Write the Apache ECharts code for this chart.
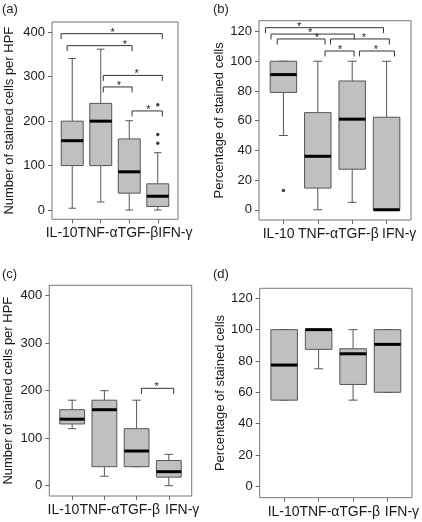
<!DOCTYPE html>
<html><head><meta charset="utf-8">
<script src="https://cdn.jsdelivr.net/npm/echarts@6/dist/echarts.min.js"></script>
<style>html,body{margin:0;padding:0;background:#fff}#c{width:422px;height:522px}</style>
</head><body><div id="c"></div>
<script>
const categories = ['IL-10', 'TNF-α', 'TGF-β', 'IFN-γ'];
// box stats per category: [lower whisker, Q1, median, Q3, upper whisker]
const boxA = [[4, 100, 156, 200, 341], [18, 100, 200, 240, 362], [0, 38, 86, 160, 201], [0, 8, 31, 59, 129]];
const boxB = [[50, 79, 91, 100, 100], [0, 14.6, 36, 65.4, 100], [5, 27.3, 61, 86.7, 100], [0, 0, 0, 62.3, 100]];
const boxC = [[120, 130, 140, 160, 180], [20, 40, 160, 180, 200], [40, 40, 73, 120, 180], [0, 18, 29.5, 53, 66]];
const boxD = [[55, 55, 77.4, 100, 100], [75, 87.4, 100, 100, 100], [55, 65, 84.6, 87.8, 100], [60, 60, 90.6, 100, 100]];
// outliers: [category position, value]
const outA = [[4, 237], [4, 170], [4, 150]];
const outB = [[1, 13]];
const outC = [];
const outD = [];
// significance brackets: [from position, to position, height, star position]
const sigA = [[0.61, 4.16, 397, 2.42], [0.82, 3.10, 370, 2.85], [2.09, 4.16, 303, 3.26], [2.09, 3.10, 277, 2.64], [3.10, 4.16, 223, 3.67]];
const sigB = [[0.48, 3.91, 122.6, 1.46], [0.64, 3.06, 118.3, 1.78], [0.82, 2.21, 115, 1.97], [2.37, 4.08, 115, 3.34], [2.21, 3.055, 106.9, 2.65], [3.21, 4.23, 106.9, 3.69]];
const sigC = [[3.15, 4.15, 205, 3.62]];
const sigD = [];
const ticksCount = [0, 100, 200, 300, 400];
const ticksPct = [0, 20, 40, 60, 80, 100, 120];
const nameCount = 'Number of stained cells per HPF';
const namePct = 'Percentage of stained cells';

const FONT = '"Liberation Sans", Arial, sans-serif';
const BOX_W = 0.77, CAP_W = 0.26, DROP = 5.5;
const XMIN = 0.29, XMAX = 4.71;

// label run layout: where the run of category labels starts, and gaps between them
const panels = [
  {label: '(a)', lab: {left: 2, top: 3}, box: boxA, out: outA, sig: sigA, ymin: -20.9, ymax: 423.2, ticks: ticksCount, name: nameCount, nameGap: 36, run: {start: 45.7, gaps: [0, 0, 0]}, grid: {left: 52, top: 22, width: 126, height: 197.3}},
  {label: '(b)', lab: {left: 213, top: 3}, box: boxB, out: outB, sig: sigB, ymin: -6.9, ymax: 127.3, ticks: ticksPct, name: namePct, nameGap: 25, run: {start: 262.7, gaps: [3.4, 0, 3.4]}, grid: {left: 259, top: 20.7, width: 152, height: 199.3}},
  {label: '(c)', lab: {left: 2, top: 268}, box: boxC, out: outC, sig: sigC, ymin: -21.7, ymax: 421.9, ticks: ticksCount, name: nameCount, nameGap: 34, run: {start: 47.5, gaps: [0, 0, 5]}, grid: {left: 49.3, top: 285.3, width: 142.4, height: 210.7}},
  {label: '(d)', lab: {left: 213, top: 268}, box: boxD, out: outD, sig: sigD, ymin: -7.3, ymax: 126.4, ticks: ticksPct, name: namePct, nameGap: 26, run: {start: 267.7, gaps: [0, 0, 5]}, grid: {left: 259.7, top: 288.3, width: 152.3, height: 209.4}}
];

const mctx = document.createElement('canvas').getContext('2d');
function textW(t, fs) { mctx.font = fs + 'px ' + FONT; return mctx.measureText(t).width; }
const RUN_W = 147;
let labFs = 14 * RUN_W / categories.reduce((s, c) => s + textW(c, 14), 0);
labFs = Math.max(12.5, Math.min(15.5, labFs));

function renderBox(params, api) {
  const x = api.value(0);
  const lo = api.value(1), q1 = api.value(2), md = api.value(3), q3 = api.value(4), hi = api.value(5);
  const bw = api.size([BOX_W, 0])[0];
  const cw = api.size([CAP_W, 0])[0];
  const p = v => api.coord([x, v]);
  const cx = p(md)[0];
  const yLo = p(lo)[1], yQ1 = p(q1)[1], yMd = p(md)[1], yQ3 = p(q3)[1], yHi = p(hi)[1];
  const ws = {stroke: '#555', lineWidth: 1};
  return {type: 'group', children: [
    {type: 'line', shape: {x1: cx, y1: yQ3, x2: cx, y2: yHi}, style: ws},
    {type: 'line', shape: {x1: cx - cw / 2, y1: yHi, x2: cx + cw / 2, y2: yHi}, style: ws},
    {type: 'line', shape: {x1: cx, y1: yQ1, x2: cx, y2: yLo}, style: ws},
    {type: 'line', shape: {x1: cx - cw / 2, y1: yLo, x2: cx + cw / 2, y2: yLo}, style: ws},
    {type: 'rect', shape: {x: cx - bw / 2, y: yQ3, width: bw, height: yQ1 - yQ3}, style: {fill: '#c0c0c0', stroke: '#555', lineWidth: 1}},
    {type: 'line', shape: {x1: cx - bw / 2, y1: yMd, x2: cx + bw / 2, y2: yMd}, style: {stroke: '#000', lineWidth: 3}}
  ]};
}

function renderSig(params, api) {
  const x1 = api.value(0), x2 = api.value(1), y = api.value(2), xs = api.value(3);
  const a = api.coord([x1, y]), b = api.coord([x2, y]), s = api.coord([xs, y]);
  return {type: 'group', children: [
    {type: 'polyline', shape: {points: [[a[0], a[1] + DROP], [a[0], a[1]], [b[0], b[1]], [b[0], b[1] + DROP]]}, style: {stroke: '#333', lineWidth: 1, fill: null}},
    {type: 'text', x: s[0], y: s[1] - 1, style: {text: '*', fontSize: 11, fill: '#222', align: 'center', verticalAlign: 'middle', fontFamily: FONT}}
  ]};
}

const option = {animation: false, title: [], grid: [], xAxis: [], yAxis: [], series: []};
panels.forEach((pn, i) => {
  const g = pn.grid;
  const unit = g.width / (XMAX - XMIN);
  const fi = 2 * i, ci = 2 * i + 1;
  // per-label shift so the labels form the run seen in the figure
  const rich = {};
  let cursor = pn.run.start;
  categories.forEach((c, k) => {
    const w = textW(c, labFs);
    const centre = cursor + w / 2;
    cursor += w + (pn.run.gaps[k] || 0);
    const tickX = g.left + (k + 1 - XMIN) * unit;
    const d = centre - tickX;
    rich['s' + k] = {fontSize: labFs, color: '#1a1a1a', fontFamily: FONT,
      padding: d >= 0 ? [0, 0, 0, 2 * d] : [0, -2 * d, 0, 0]};
  });
  option.title.push({text: pn.label, left: pn.lab.left, top: pn.lab.top, padding: 0, textStyle: {fontSize: 13, fontWeight: 'normal', color: '#222', fontFamily: FONT}});
  option.grid.push({show: true, borderColor: '#777', borderWidth: 1, backgroundColor: 'transparent', left: g.left, top: g.top, width: g.width, height: g.height});
  option.grid.push({show: false, left: g.left + (0.5 - XMIN) * unit, top: g.top, width: 4 * unit, height: g.height});
  option.xAxis[fi] = {type: 'value', gridIndex: fi, min: XMIN, max: XMAX, show: false};
  option.xAxis[ci] = {
    type: 'category', gridIndex: ci, data: categories, boundaryGap: true, position: 'bottom',
    axisLine: {show: false, onZero: false}, splitLine: {show: false},
    axisTick: {show: true, inside: false, length: 4, alignWithLabel: true, interval: 0, lineStyle: {color: '#666'}},
    axisLabel: {show: true, interval: 0, margin: 7, hideOverlap: false, fontSize: labFs, color: '#1a1a1a', fontFamily: FONT,
      formatter: (v, idx) => '{s' + idx + '|' + v + '}', rich: rich}
  };
  option.yAxis[fi] = {
    type: 'value', gridIndex: fi, min: pn.ymin, max: pn.ymax,
    name: pn.name, nameLocation: 'middle', nameGap: pn.nameGap, nameRotate: 90,
    nameTextStyle: {fontSize: 13, color: '#1a1a1a', fontFamily: FONT},
    axisLine: {show: false, onZero: false}, splitLine: {show: false},
    axisTick: {show: true, inside: false, length: 4, customValues: pn.ticks, lineStyle: {color: '#666'}},
    axisLabel: {show: true, customValues: pn.ticks, margin: 7, showMinLabel: true, showMaxLabel: true, fontSize: 13, color: '#1a1a1a', fontFamily: FONT}
  };
  option.yAxis[ci] = {type: 'value', gridIndex: ci, min: pn.ymin, max: pn.ymax, show: false};
  option.series.push({
    type: 'custom', xAxisIndex: fi, yAxisIndex: fi, renderItem: renderBox,
    encode: {x: 0, y: [1, 2, 3, 4, 5]},
    data: pn.box.map((b, k) => [k + 1].concat(b)), silent: true
  });
  option.series.push({
    type: 'scatter', xAxisIndex: fi, yAxisIndex: fi, data: pn.out,
    symbol: 'circle', symbolSize: 3.5, itemStyle: {color: '#111'}, silent: true
  });
  option.series.push({
    type: 'custom', xAxisIndex: fi, yAxisIndex: fi, renderItem: renderSig,
    encode: {x: [0, 1], y: 2}, data: pn.sig, silent: true
  });
});

const chart = echarts.init(document.getElementById('c'), null, {renderer: 'canvas'});
chart.setOption(option);
</script></body></html>
